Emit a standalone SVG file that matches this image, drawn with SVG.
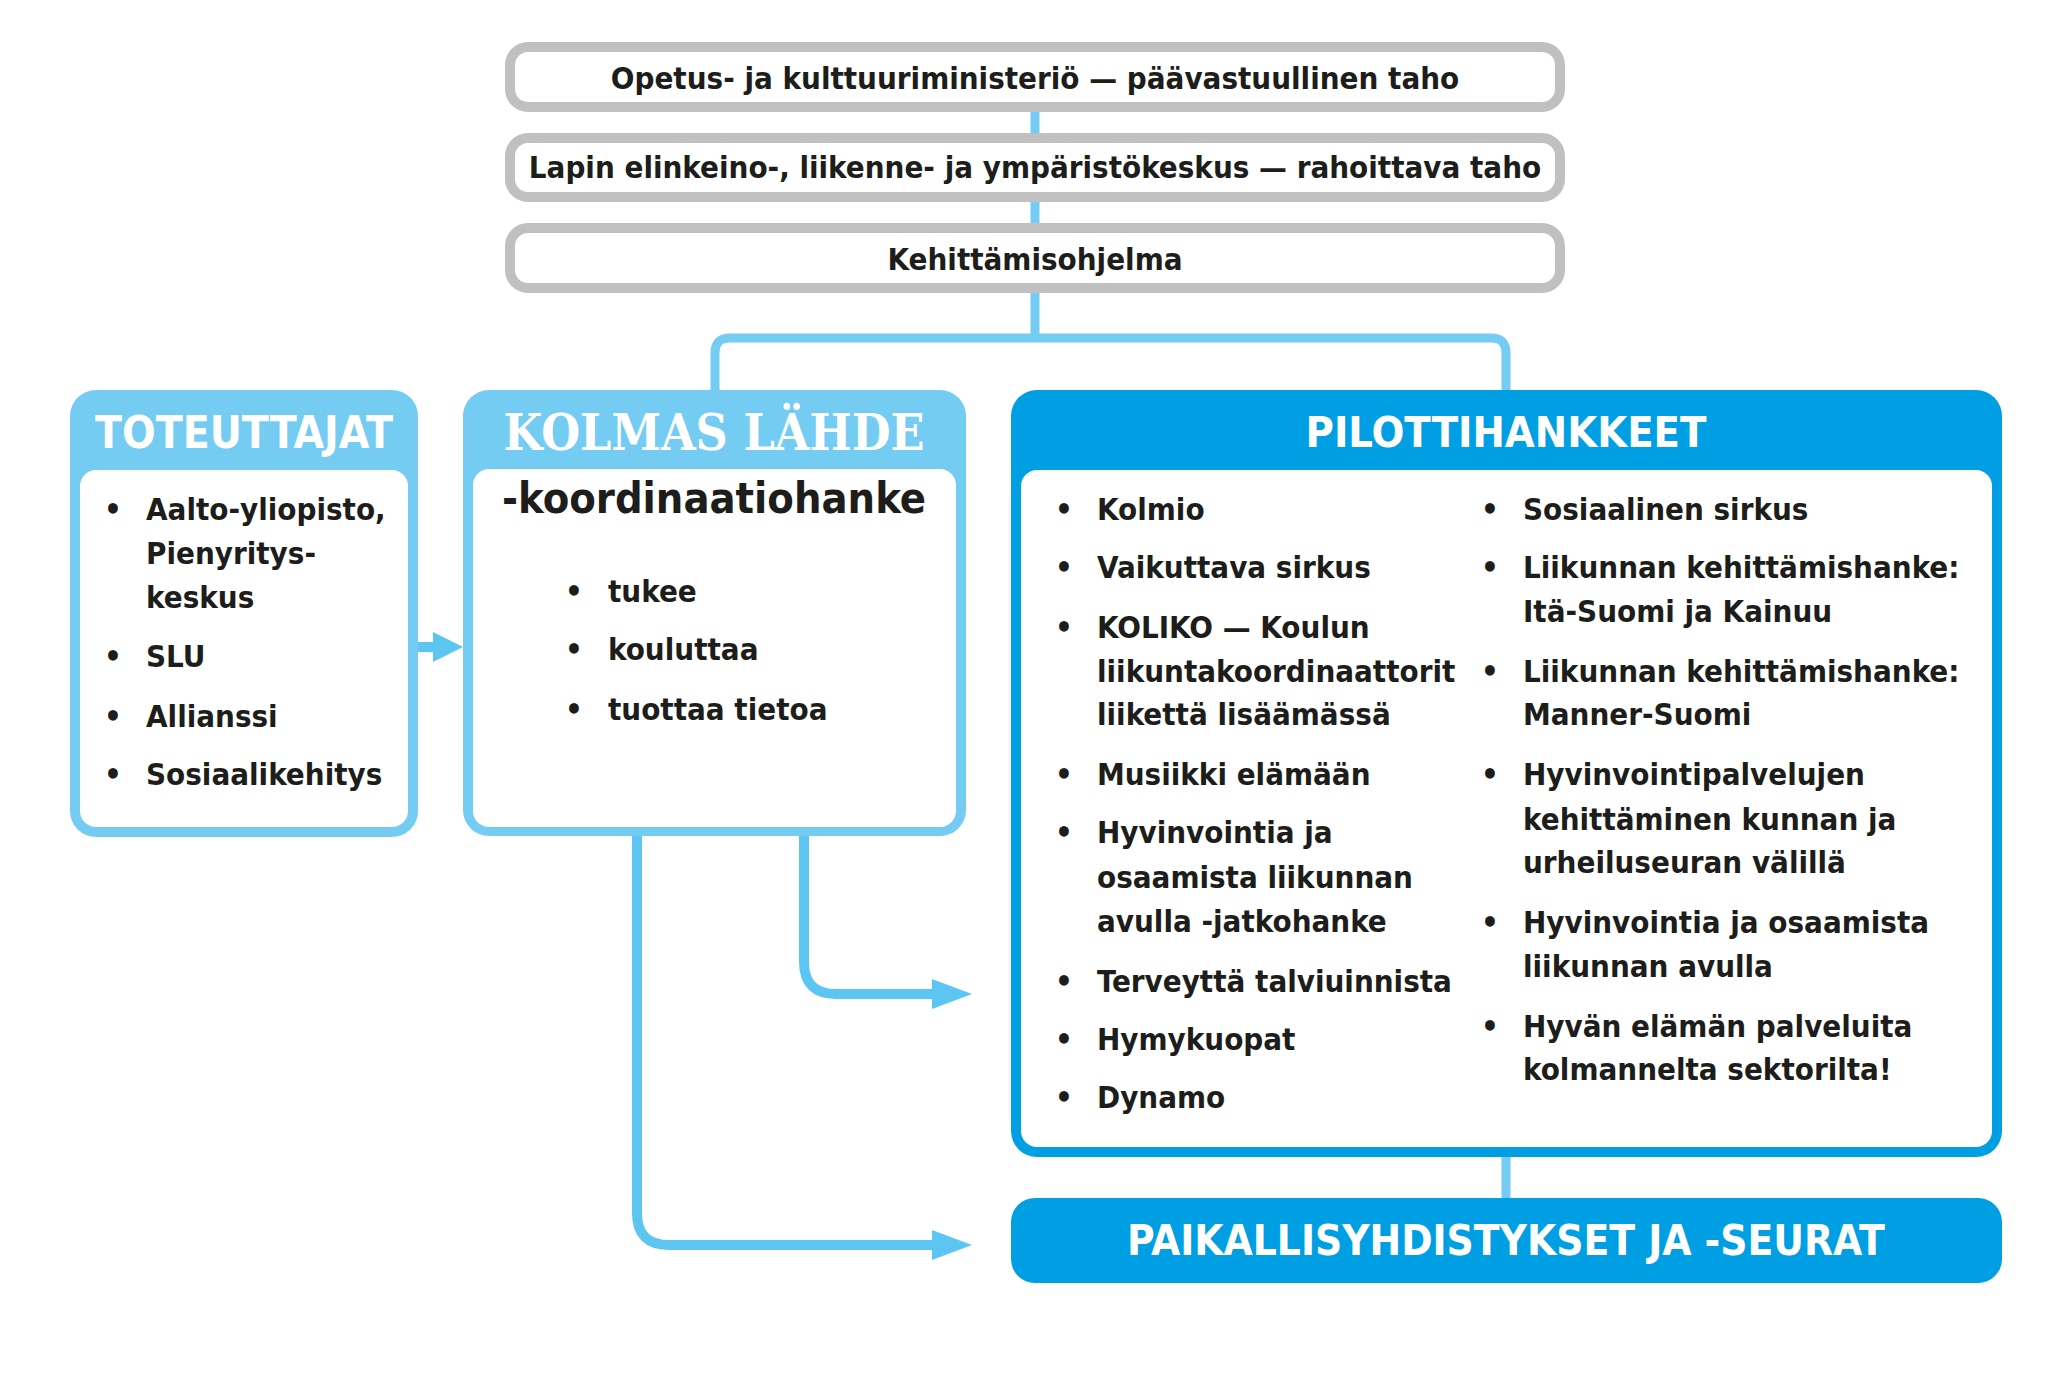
<svg xmlns="http://www.w3.org/2000/svg" width="2071" height="1380" viewBox="0 0 2071 1380">
<defs>
<style>
.t{font-family:"DejaVu Sans Condensed","DejaVu Sans",sans-serif;font-weight:bold;fill:#1d1d1b;}
.top{font-size:31px;text-anchor:middle;}
.li{font-size:31px;}
.hd{font-family:"DejaVu Sans Condensed","DejaVu Sans",sans-serif;font-weight:bold;fill:#ffffff;text-anchor:middle;}
.gray{fill:#ffffff;stroke:#c0c0c0;stroke-width:10;}
.lb{fill:#75ccf3;}
.db{fill:#009fe3;}
.wp{fill:#ffffff;}
.con{fill:none;stroke:#5dc5f2;stroke-width:10;}
.con2{fill:none;stroke:#75ccf3;stroke-width:9;}
.head{fill:#5dc5f2;}
</style>
</defs>
<rect width="2071" height="1380" fill="#ffffff"/>
<g id="connectors">
<path class="con2" d="M1035 108 V338"/>
<path class="con2" d="M715 392 V353 Q715 338 730 338 H1491 Q1506 338 1506 353 V392"/>
<path class="con" d="M416 647 H436"/>
<polygon class="head" points="433,632 463,647 433,662"/>
<path class="con" d="M804 834 V962 Q804 994 836 994 H936"/>
<polygon class="head" points="932,979 972,994 932,1009"/>
<path class="con" d="M637 834 V1213 Q637 1245 669 1245 H936"/>
<polygon class="head" points="932,1230 972,1245 932,1260"/>
<path class="con2" d="M1506 1155 V1200"/>
</g>
<g id="ministerio">
<rect class="gray" x="510" y="47" width="1050" height="60" rx="18"/>
<text class="t top" x="1035" y="89">Opetus- ja kulttuuriministeriö — päävastuullinen taho</text>
</g>
<g id="ely">
<rect class="gray" x="510" y="138" width="1050" height="59" rx="18"/>
<text class="t top" x="1035" y="178">Lapin elinkeino-, liikenne- ja ympäristökeskus — rahoittava taho</text>
</g>
<g id="ohjelma">
<rect class="gray" x="510" y="228" width="1050" height="60" rx="18"/>
<text class="t top" x="1035" y="270">Kehittämisohjelma</text>
</g>
<g id="toteuttajat">
<rect class="lb" x="70" y="390" width="348" height="447" rx="26"/>
<rect class="wp" x="80" y="470" width="328" height="357" rx="16"/>
<text class="hd" x="244" y="448" font-size="44">TOTEUTTAJAT</text>
<g class="t li">
<text x="104" y="520">•</text><text x="146" y="520">Aalto-yliopisto,</text>
<text x="146" y="564">Pienyritys-</text>
<text x="146" y="608">keskus</text>
<text x="104" y="667">•</text><text x="146" y="667">SLU</text>
<text x="104" y="727">•</text><text x="146" y="727">Allianssi</text>
<text x="104" y="785">•</text><text x="146" y="785">Sosiaalikehitys</text>
</g>
</g>
<g id="kolmas">
<rect class="lb" x="463" y="390" width="503" height="446" rx="26"/>
<rect class="wp" x="473" y="469" width="483" height="358" rx="16"/>
<text x="714" y="450" font-family="'DejaVu Serif',serif" font-weight="bold" font-size="50" fill="#ffffff" text-anchor="middle" textLength="421" lengthAdjust="spacingAndGlyphs">KOLMAS LÄHDE</text>
<text class="t" x="714" y="513" font-size="43" text-anchor="middle">-koordinaatiohanke</text>
<g class="t li">
<text x="565" y="602">•</text><text x="608" y="602">tukee</text>
<text x="565" y="660">•</text><text x="608" y="660">kouluttaa</text>
<text x="565" y="720">•</text><text x="608" y="720">tuottaa tietoa</text>
</g>
</g>
<g id="pilotti">
<rect class="db" x="1011" y="390" width="991" height="767" rx="26"/>
<rect class="wp" x="1021" y="470" width="971" height="677" rx="16"/>
<text class="hd" x="1506" y="447" font-size="43">PILOTTIHANKKEET</text>
<g class="t li">
<text x="1055" y="520">•</text><text x="1097" y="520">Kolmio</text>
<text x="1055" y="578">•</text><text x="1097" y="578">Vaikuttava sirkus</text>
<text x="1055" y="638">•</text><text x="1097" y="638">KOLIKO — Koulun</text>
<text x="1097" y="682">liikuntakoordinaattorit</text>
<text x="1097" y="725">liikettä lisäämässä</text>
<text x="1055" y="785">•</text><text x="1097" y="785">Musiikki elämään</text>
<text x="1055" y="843">•</text><text x="1097" y="843">Hyvinvointia ja</text>
<text x="1097" y="888">osaamista liikunnan</text>
<text x="1097" y="932">avulla -jatkohanke</text>
<text x="1055" y="992">•</text><text x="1097" y="992">Terveyttä talviuinnista</text>
<text x="1055" y="1050">•</text><text x="1097" y="1050">Hymykuopat</text>
<text x="1055" y="1108">•</text><text x="1097" y="1108">Dynamo</text>
<text x="1481" y="520">•</text><text x="1523" y="520">Sosiaalinen sirkus</text>
<text x="1481" y="578">•</text><text x="1523" y="578">Liikunnan kehittämishanke:</text>
<text x="1523" y="622">Itä-Suomi ja Kainuu</text>
<text x="1481" y="682">•</text><text x="1523" y="682">Liikunnan kehittämishanke:</text>
<text x="1523" y="725">Manner-Suomi</text>
<text x="1481" y="785">•</text><text x="1523" y="785">Hyvinvointipalvelujen</text>
<text x="1523" y="830">kehittäminen kunnan ja</text>
<text x="1523" y="873">urheiluseuran välillä</text>
<text x="1481" y="933">•</text><text x="1523" y="933">Hyvinvointia ja osaamista</text>
<text x="1523" y="977">liikunnan avulla</text>
<text x="1481" y="1037">•</text><text x="1523" y="1037">Hyvän elämän palveluita</text>
<text x="1523" y="1080">kolmannelta sektorilta!</text>
</g>
</g>
<g id="paikallis">
<rect class="db" x="1011" y="1198" width="991" height="85" rx="24"/>
<text class="hd" x="1506" y="1255" font-size="42">PAIKALLISYHDISTYKSET JA -SEURAT</text>
</g>
</svg>
